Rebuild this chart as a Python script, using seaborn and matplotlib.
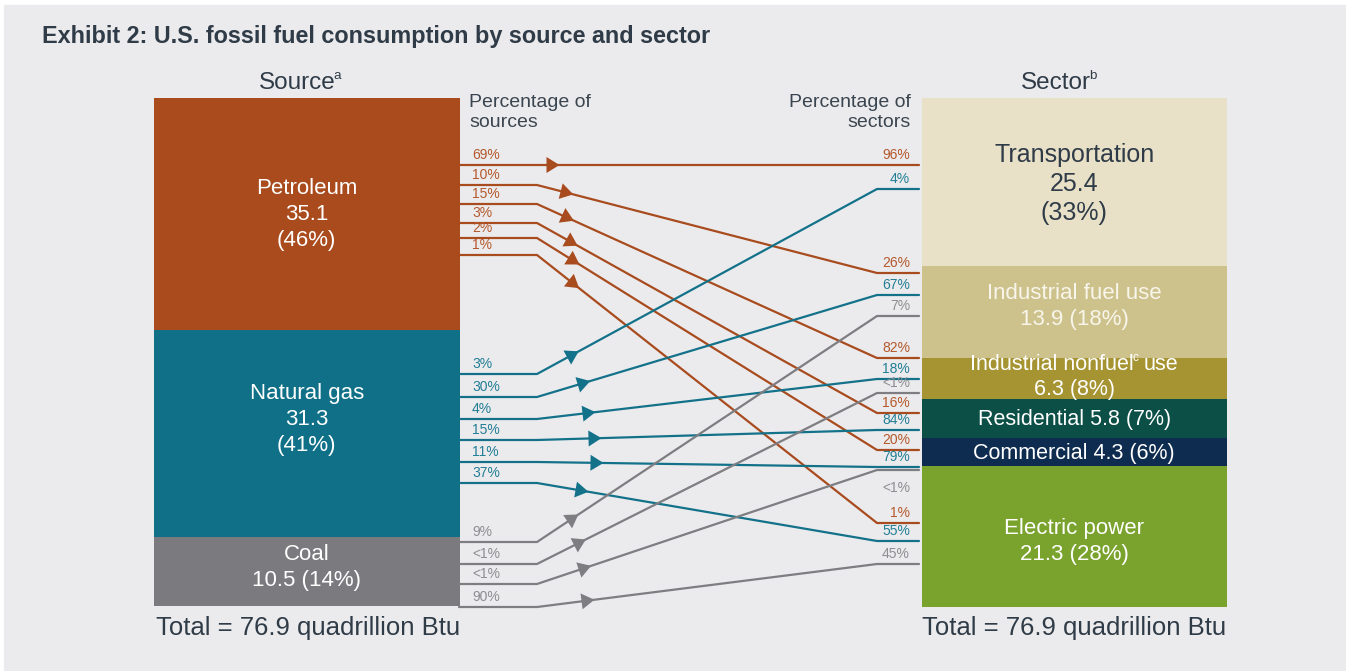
import matplotlib
matplotlib.use("Agg")
import matplotlib.pyplot as plt
import numpy as np
import pandas as pd
import seaborn as sns
from matplotlib.patches import Rectangle, Polygon
from matplotlib.font_manager import FontProperties

# ---------------- data ----------------
sources = ["Petroleum", "Natural gas", "Coal"]
source_values = [35.1, 31.3, 10.5]
source_shares = ["46%", "41%", "14%"]

sectors = ["Transportation", "Industrial fuel use", "Industrial nonfuel use",
           "Residential", "Commercial", "Electric power"]
sector_values = [25.4, 13.9, 6.3, 5.8, 4.3, 21.3]
sector_shares = ["33%", "18%", "8%", "7%", "6%", "28%"]

total_btu = 76.9

flow_source = ["Petroleum"] * 6 + ["Natural gas"] * 6 + ["Coal"] * 4
flow_sector = ["Transportation", "Industrial fuel use", "Industrial nonfuel use",
               "Residential", "Commercial", "Electric power",
               "Transportation", "Industrial fuel use", "Industrial nonfuel use",
               "Residential", "Commercial", "Electric power",
               "Industrial fuel use", "Industrial nonfuel use", "Commercial",
               "Electric power"]
flow_pct_of_source = ["69%", "10%", "15%", "3%", "2%", "1%",
                      "3%", "30%", "4%", "15%", "11%", "37%",
                      "9%", "<1%", "<1%", "90%"]
flow_pct_of_sector = ["96%", "26%", "82%", "16%", "20%", "1%",
                      "4%", "67%", "18%", "84%", "79%", "55%",
                      "7%", "<1%", "<1%", "45%"]

# ---------------- layout (pixels) ----------------
W, H = 1346, 671
BAR_TOP, BAR_BOTTOM = 98, 607
SRC_X0, SRC_X1 = 154, 459
SEC_X0, SEC_X1 = 921, 1227
KINK_L, KINK_R, LINE_END = 537, 877, 919
LEFT_ROW_Y = [165, 185, 204, 223, 238, 255,
              374, 397, 419, 440, 462, 483,
              542, 564, 584, 607]
RIGHT_ROW_Y = [165, 273, 358, 413, 450, 523,
               189, 295, 379, 430, 467, 541,
               316, 393, 470, 564]
ARROW_X = [553, 567, 568, 572, 574, 574,
           573, 584, 589, 595, 597, 582,
           573, 580, 585, 588]
RIGHT_LABEL_DY = [-10] * 16
RIGHT_LABEL_DY[14] = 18
# vertical anchor of each segment's label inside its block (0 = top, 1 = bottom)
SOURCE_LABEL_AT = [0.49, 0.42, 0.40]
SECTOR_LABEL_AT = [0.50, 0.42, 0.40, 0.47, 0.48, 0.52]

# ---------------- styles ----------------
BG = "#EBEBED"
DARK = "#2F3B47"
seg_colors = {
    "Petroleum": "#A94B1C", "Natural gas": "#0F7088", "Coal": "#7B7B7F",
    "Transportation": "#E8E1C8", "Industrial fuel use": "#CDC18C",
    "Industrial nonfuel use": "#A69433", "Residential": "#0B4F47",
    "Commercial": "#0E2C50", "Electric power": "#7AA32E",
}
line_colors = {"Petroleum": "#A84B1E", "Natural gas": "#13728A", "Coal": "#7E7E82"}
label_colors = {"Petroleum": "#B5582B", "Natural gas": "#227E95", "Coal": "#8E8E92"}
seg_text_color = {s: "white" for s in seg_colors}
seg_text_color["Transportation"] = DARK
seg_text_color["Industrial fuel use"] = "#F8F5EA"
# label lines; "^x" marks a superscript part
display_parts = {s: [s] for s in seg_colors}
display_parts["Industrial nonfuel use"] = ["Industrial nonfuel", "^c", " use"]
source_fmt = ["3", "3", "2"]          # 3 = name / value / (share); 2 = name / value (share); 1 = one line
sector_fmt = ["3", "2", "2", "1", "1", "2"]
source_fs = [16, 16, 16]
sector_fs = [18, 16, 15.5, 15.5, 15.5, 16]

sns.set_style("white")
plt.rcParams["font.family"] = ["Liberation Sans", "DejaVu Sans"]

fig = plt.figure(figsize=(W / 100, H / 100), dpi=100, facecolor="white")
fig.add_artist(Rectangle((4 / W, 1 / H), (W - 4) / W, (H - 6) / H,
                         transform=fig.transFigure, color=BG, zorder=-10))
renderer = fig.canvas.get_renderer()
PX = 100 / 72.0


def text_w(s, fs, weight="normal"):
    prop = FontProperties(family=["Liberation Sans", "DejaVu Sans"], size=fs, weight=weight)
    w, h, d = renderer.get_text_width_height_descent(s, prop, ismath=False)
    return w


def draw_line_parts(ax, x, yb, parts, fs, color, ha="center", sup_scale=0.55):
    """Draw one line made of normal and superscript parts; yb = baseline (pixels, y down)."""
    items = []
    for p in parts:
        if p.startswith("^"):
            items.append((p[1:], fs * sup_scale, True, -1.5))
        else:
            lead = len(p) - len(p.lstrip(" "))
            items.append((p.strip(" "), fs, False, lead * 0.278 * fs * PX))
    widths = [text_w(t, f) for t, f, _, _ in items]
    total = sum(widths) + sum(g for *_, g in items[1:])
    x0 = {"center": x - total / 2, "left": x, "right": x - total}[ha]
    cur = x0
    for k, ((t, f, sup, gap), w) in enumerate(zip(items, widths)):
        if k > 0:
            cur += gap
        yy = yb - 0.42 * fs * PX if sup else yb
        ax.text(cur, yy, t, ha="left", va="baseline", fontsize=f, color=color)
        cur += w


def draw_block(ax, xc, yc, lines, fs, color, lh=1.17):
    n = len(lines)
    lpx = lh * fs * PX
    cap = 0.716 * fs * PX
    for k, parts in enumerate(lines):
        yb = yc - (n - 1) / 2 * lpx + k * lpx + cap / 2
        draw_line_parts(ax, xc, yb, parts, fs, color)


def make_lines(name, v, s, fmt):
    parts = display_parts[name]
    if fmt == "3":
        return [parts, [f"{v}"], [f"({s})"]]
    if fmt == "2":
        return [parts, [f"{v} ({s})"]]
    return [parts[:-1] + [parts[-1] + f" {v} ({s})"]]


# ---------------- stacked bars (seaborn) ----------------
center_dist = (SEC_X0 + SEC_X1) / 2 - (SRC_X0 + SRC_X1) / 2
bar_w = (SRC_X1 - SRC_X0 + 0.5) / center_dist
bar_ax = fig.add_axes([SRC_X0 / W, 1 - BAR_BOTTOM / H,
                       (SEC_X1 - SRC_X0) / W, (BAR_BOTTOM - BAR_TOP) / H])
bar_ax.set_facecolor("none")
rows = []
for side, names, vals, shares, fmts, fss, at in [
        ("Source", sources, source_values, source_shares, source_fmt, source_fs, SOURCE_LABEL_AT),
        ("Sector", sectors, sector_values, sector_shares, sector_fmt, sector_fs, SECTOR_LABEL_AT)]:
    cum = np.cumsum(vals)
    for n, v, c, s, f, fs, a in zip(names, vals, cum, shares, fmts, fss, at):
        rows.append(dict(side=side, segment=n, value=v, end=c, anchor=c - v * (1 - a),
                         share=s, fmt=f, fs=fs))
bars = pd.DataFrame(rows)
hue_order = bars.sort_values("end", ascending=False)["segment"].tolist()
sns.barplot(data=bars, x="side", y="end", hue="segment", hue_order=hue_order,
            order=["Source", "Sector"], palette=seg_colors, dodge=False,
            width=bar_w, errorbar=None, legend=False, saturation=1,
            linewidth=0, edgecolor="none", ax=bar_ax)
ymax = max(sum(source_values), sum(sector_values))
bar_ax.set_xlim(-bar_w / 2, 1 + bar_w / 2)
bar_ax.set_ylim(ymax, 0)
bar_ax.axis("off")

# ---------------- flows overlay ----------------
ov = fig.add_axes([0, 0, 1, 1], zorder=2)
ov.set_facecolor("none")
ov.set_xlim(0, W)
ov.set_ylim(H, 0)

for _, r in bars.iterrows():
    xpos = 0 if r.side == "Source" else 1
    dx, dy = bar_ax.transData.transform((xpos, r.anchor))
    draw_block(ov, dx, H - dy, make_lines(r.segment, r.value, r.share, r.fmt),
               r.fs, seg_text_color[r.segment])

pts = []
for i in range(len(flow_source)):
    xs = [SRC_X1, KINK_L, KINK_R, LINE_END]
    ys = [LEFT_ROW_Y[i], LEFT_ROW_Y[i], RIGHT_ROW_Y[i], RIGHT_ROW_Y[i]]
    for x, y in zip(xs, ys):
        pts.append(dict(flow=i, source=flow_source[i], x=x, y=y))
flows = pd.DataFrame(pts)
sns.lineplot(data=flows, x="x", y="y", hue="source", units="flow",
             estimator=None, sort=False, palette=line_colors, linewidth=1.6,
             legend=False, ax=ov)

for i in range(len(flow_source)):
    p0 = np.array([KINK_L, LEFT_ROW_Y[i]], float)
    p1 = np.array([KINK_R, RIGHT_ROW_Y[i]], float)
    d = (p1 - p0) / np.linalg.norm(p1 - p0)
    c = p0 + d * (ARROW_X[i] - KINK_L) / d[0]
    nrm = np.array([-d[1], d[0]])
    tip = c + d * 6.5
    b1 = c - d * 6.5 + nrm * 8
    b2 = c - d * 6.5 - nrm * 8
    ov.add_patch(Polygon([tip, b1, b2], closed=True,
                         color=line_colors[flow_source[i]], lw=0, zorder=3))
    ov.text(472, LEFT_ROW_Y[i] - 10, flow_pct_of_source[i], ha="left",
            va="center", fontsize=10, color=label_colors[flow_source[i]])
    ov.text(910, RIGHT_ROW_Y[i] + RIGHT_LABEL_DY[i], flow_pct_of_sector[i],
            ha="right", va="center", fontsize=10,
            color=label_colors[flow_source[i]])

# ---------------- titles and notes ----------------
ov.text(42, 37, "Exhibit 2: U.S. fossil fuel consumption by source and sector",
        ha="left", va="center", fontsize=16.8, fontweight="bold", color=DARK)
draw_line_parts(ov, 300, 89, ["Source", "^a"], 17.5, DARK, sup_scale=0.55)
draw_line_parts(ov, 1059, 89, ["Sector", "^b"], 17.5, DARK, sup_scale=0.55)
ov.text(469, 94, "Percentage of\nsources", ha="left", va="top",
        fontsize=14, color="#3A4550", linespacing=1.2)
ov.text(911, 94, "Percentage of\nsectors", ha="right", va="top",
        fontsize=14, color="#3A4550", linespacing=1.2,
        multialignment="right")
total_txt = f"Total = {total_btu} quadrillion Btu"
ov.text(156, 628, total_txt, ha="left", va="center", fontsize=18.5, color=DARK)
ov.text(922, 628, total_txt, ha="left", va="center", fontsize=18.5, color=DARK)

ov.axis("off")

fig.savefig("out.png", dpi=100, facecolor="white")
